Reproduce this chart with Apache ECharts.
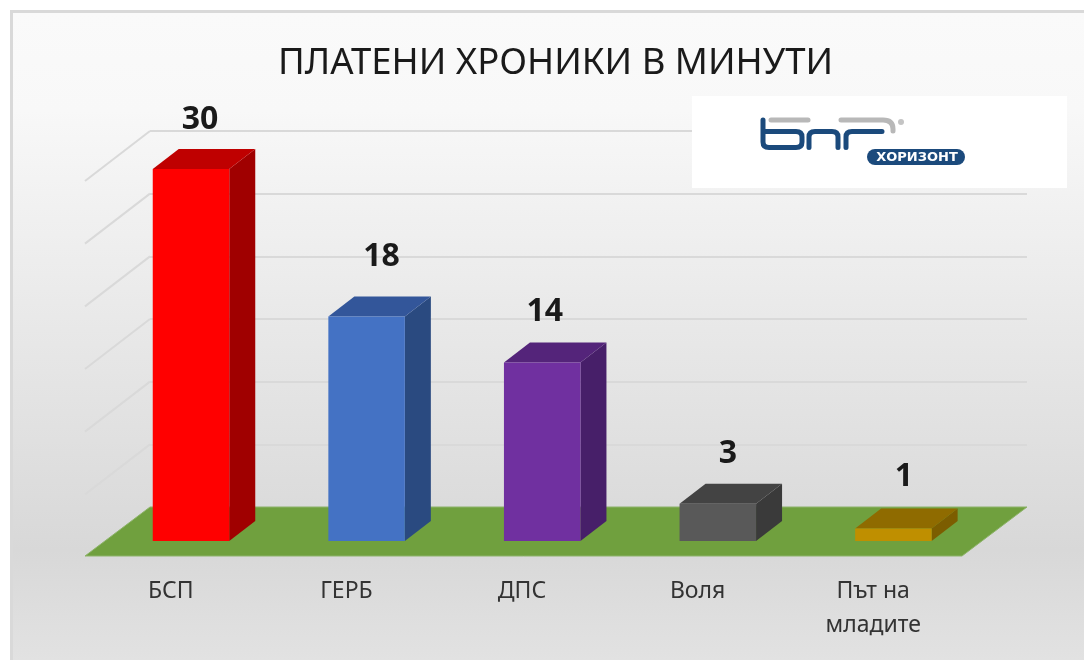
<!DOCTYPE html>
<html lang="bg">
<head>
    <meta charset="UTF-8">
    <title>Платени хроники в минути</title>
    <script src="https://cdn.jsdelivr.net/npm/echarts@6/dist/echarts.min.js"></script>
</head>
<body style="margin: 0; background-color: #fff">
<!-- рамка и фон -->
<div style="position: absolute; left: 10px; top: 10px; right: 0; bottom: 0; border-left: 3px solid #d9d9d9; border-top: 3px solid #d9d9d9; background: linear-gradient(180deg, #fafafa 0%, #f8f8f8 15%, #d8d8d8 83%, #e2e2e2 100%)"></div>
<div id="container" style="position: absolute; left: 0; top: 0; width: 1084px; height: 660px"></div>
<script type="text/javascript">
    const parties = ['БСП', 'ГЕРБ', 'ДПС', 'Воля', 'Път на\nмладите'];
    const minutes = [30, 18.1, 14.4, 3, 1];
    const wallTicks = [5, 10, 15, 20, 25, 30];
    const frontColors = ['#ff0000', '#4472c4', '#7030a0', '#595959', '#bf8f00'];
    const topColors = ['#bf0000', '#33569a', '#54247a', '#434343', '#8f6b00'];
    const sideColors = ['#a00000', '#2a4a80', '#471f69', '#3a3a3a', '#7c5d00'];

    const FONT = '"Noto Sans", sans-serif';
    // ръчно преместени надписи над колоните
    const labelShift = [[9, -49], [15, -60], [2.5, -51], [10, -50], [10.5, -52]];

    const barShift = [20.2, -15];   // колоната стои навътре в пода
    const barDepth = [26, -20];
    const barWidth = 76.5;
    const wallDepth = [-65, 50];

    function renderBar(params, api) {
        let i = params.dataIndex;
        let top = api.coord([i, api.value(1)]);
        let base = api.coord([i, 0]);
        let x0 = top[0] + barShift[0] - barWidth / 2;
        let x1 = x0 + barWidth;
        let y0 = top[1] + barShift[1];
        let y1 = base[1] + barShift[1];
        let dx = barDepth[0], dy = barDepth[1];
        return {
            type: 'group',
            children: [
                {type: 'polygon', shape: {points: [[x1, y0], [x1 + dx, y0 + dy], [x1 + dx, y1 + dy], [x1, y1]]}, style: {fill: sideColors[i]}},
                {type: 'polygon', shape: {points: [[x0, y0], [x0 + dx, y0 + dy], [x1 + dx, y0 + dy], [x1, y0]]}, style: {fill: topColors[i]}},
                {type: 'rect', shape: {x: x0, y: y0, width: barWidth, height: y1 - y0}, style: {fill: frontColors[i]}},
                {
                    type: 'text',
                    style: {
                        text: String(Math.round(api.value(1))),
                        x: top[0] + barShift[0] + labelShift[i][0],
                        y: y0 + labelShift[i][1],
                        align: 'center',
                        verticalAlign: 'middle',
                        font: 'bold 32px ' + FONT,
                        fill: '#1a1a1a'
                    }
                }
            ]
        };
    }

    function renderFloor(params, api) {
        let a = api.coord([0, 0]);
        let b = api.coord([1, 0]);
        return {
            type: 'polygon',
            shape: {
                points: [a, b, [b[0] + wallDepth[0], b[1] + 49], [a[0] + wallDepth[0], a[1] + 49]]
            },
            style: {fill: '#70a03e', stroke: '#8db36a', lineWidth: 1}
        };
    }

    function renderWallLine(params, api) {
        let p = api.coord([0, api.value(1)]);
        return {
            type: 'line',
            shape: {x1: p[0], y1: p[1], x2: p[0] + wallDepth[0], y2: p[1] + wallDepth[1]},
            style: {stroke: '#d9d9d9', lineWidth: 2}
        };
    }

    // лого БНР Хоризонт
    const navy = '#1b4a7c';
    const grey = '#b8b8b8';
    const logoStrokes = [
        {d: 'M763 120L763 142Q763 147.5 769 147.5L796 147.5Q802 147.5 802 142L802 137Q802 131.5 796 131.5L763 131.5', color: navy},
        {d: 'M809 147.5L809 137Q809 131.5 815 131.5L832 131.5Q838 131.5 838 137L838 147.5', color: navy},
        {d: 'M846 147.5L846 137Q846 131.5 852 131.5L882 131.5', color: navy},
        {d: 'M771 120L808 120', color: grey},
        {d: 'M841 120L883 120Q893 120 893 129L893 131', color: grey}
    ];

    function renderLogo() {
        return {
            type: 'group',
            children: logoStrokes.map(function (s) {
                return {
                    type: 'path',
                    shape: {pathData: s.d},
                    style: {fill: 'none', stroke: s.color, lineWidth: 5, lineCap: 'round'}
                };
            })
        };
    }

    let myChart = echarts.init(document.getElementById('container'));
    let option = {
        animation: false,
        title: {
            text: 'ПЛАТЕНИ ХРОНИКИ В МИНУТИ',
            left: 550.5,
            top: 40,
            textAlign: 'center',
            textStyle: {fontFamily: FONT, fontSize: 36.5, fontWeight: 'normal', color: '#1a1a1a'}
        },
        graphic: {
            elements: [
                {type: 'rect', z: 10, shape: {x: 692, y: 96, width: 375, height: 92}, style: {fill: '#fff'}},
                {type: 'circle', z: 11, shape: {cx: 901, cy: 122, r: 3}, style: {fill: '#c4c4c4'}},
                {type: 'rect', z: 11, shape: {x: 867, y: 149, width: 98, height: 16, r: 8}, style: {fill: navy}},
                {
                    type: 'text', z: 12,
                    style: {text: 'ХОРИЗОНТ', x: 917, y: 157.5, align: 'center', verticalAlign: 'middle', font: 'bold 13px "DejaVu Sans", sans-serif', fill: '#fff'}
                }
            ]
        },
        grid: [
            {left: 83, top: 184, width: 878, height: 372},    // предна равнина
            {left: 150, top: 131, width: 877, height: 376}    // задна стена
        ],
        xAxis: [
            {
                type: 'category',
                gridIndex: 0,
                data: parties,
                axisLine: {show: false},
                axisTick: {show: false},
                axisLabel: {
                    interval: 0,
                    margin: 18,
                    verticalAlign: 'top',
                    fontFamily: FONT,
                    fontSize: 23,
                    lineHeight: 34,
                    color: '#333333'
                }
            },
            {type: 'value', gridIndex: 1, min: 0, max: 1, show: false}
        ],
        yAxis: [
            {type: 'value', gridIndex: 0, min: 0, max: 30, show: false},
            {
                type: 'value',
                gridIndex: 1,
                min: 0,
                max: 30,
                interval: 5,
                axisLine: {show: false},
                axisTick: {show: false},
                axisLabel: {show: false},
                splitLine: {lineStyle: {color: '#d9d9d9', width: 2}}
            }
        ],
        series: [
            {
                name: 'wall',
                type: 'custom',
                xAxisIndex: 1,
                yAxisIndex: 1,
                z: 1,
                silent: true,
                renderItem: renderWallLine,
                data: wallTicks.map(function (v) { return [0, v]; })
            },
            {
                name: 'floor',
                type: 'custom',
                xAxisIndex: 1,
                yAxisIndex: 1,
                z: 2,
                silent: true,
                renderItem: renderFloor,
                data: [[0, 0]]
            },
            {
                name: 'минути',
                type: 'custom',
                xAxisIndex: 0,
                yAxisIndex: 0,
                z: 3,
                renderItem: renderBar,
                data: minutes.map(function (v, i) { return [i, v]; })
            },
            {
                name: 'logo',
                type: 'custom',
                coordinateSystem: 'none',
                z: 11,
                silent: true,
                renderItem: renderLogo,
                data: [[0]]
            }
        ]
    };
    myChart.setOption(option);
</script>
</body>
</html>
